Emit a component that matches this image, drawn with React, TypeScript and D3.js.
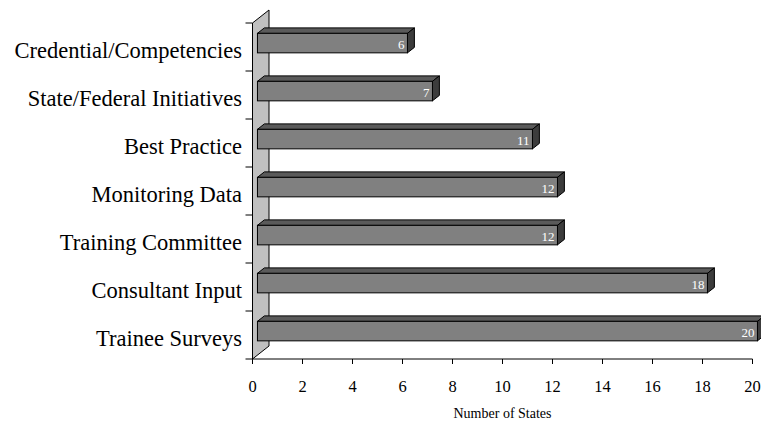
import React from 'react';
import * as d3 from 'd3';

const categories = [
  'Credential/Competencies',
  'State/Federal Initiatives',
  'Best Practice',
  'Monitoring Data',
  'Training Committee',
  'Consultant Input',
  'Trainee Surveys',
];
const values = [6, 7, 11, 12, 12, 18, 20];
const xTicks = [0, 2, 4, 6, 8, 10, 12, 14, 16, 18, 20];
const xTitle = 'Number of States';

const width = 761;
const height = 424;
const font = "'Liberation Serif', 'Times New Roman', serif";

// 3d depth of the back wall
const depthX = 16.5;
const depthY = -13;
// bar sits between these fractions of the depth
const barFront = 0.3;
const barBack = 0.72;
const barH = 19.5;

const App: React.FC = () => {
  const xScale = d3.scaleLinear().domain([0, 20]).range([252.5, 752.5]);
  const yScale = d3.scaleBand<string>().domain(categories).range([23, 359]);

  const x0 = xScale(0);
  const yTop = yScale.range()[0];
  const yBottom = yScale.range()[1];

  const wall = [
    [x0, yTop],
    [x0 + depthX, yTop + depthY],
    [x0 + depthX, yBottom + depthY],
    [x0, yBottom],
  ];

  const fx = barFront * depthX;
  const fy = barFront * depthY;
  const bx = barBack * depthX;
  const by = barBack * depthY;

  return (
    <svg width={width} height={height} style={{ display: 'block', position: 'absolute', left: 0, top: 0 }}>
      <rect width={width} height={height} fill="#fff" />
      {/* back wall */}
      <polygon points={wall.map((p) => p.join(',')).join(' ')} fill="#c0c0c0" stroke="#000" strokeWidth={1} />

      {/* category ticks on the wall */}
      {d3.range(categories.length + 1).map((i) => {
        const y = yTop + i * yScale.step();
        return <line key={'ct' + i} x1={x0 - 7} x2={x0} y1={y} y2={y} stroke="#000" />;
      })}

      {/* x axis */}
      <line x1={x0} x2={xScale(20)} y1={yBottom} y2={yBottom} stroke="#000" />
      {xTicks.map((t) => (
        <g key={'xt' + t}>
          <line x1={xScale(t)} x2={xScale(t)} y1={yBottom} y2={yBottom + 5} stroke="#000" />
          <text x={xScale(t)} y={yBottom + 33} textAnchor="middle" fontFamily={font} fontSize={16.5} fill="#000">
            {t}
          </text>
        </g>
      ))}
      <text x={(xScale(0) + xScale(20)) / 2} y={418} textAnchor="middle" fontFamily={font} fontSize={14} fill="#000">
        {xTitle}
      </text>

      {/* category labels */}
      {categories.map((c) => (
        <text
          key={'cl' + c}
          x={242}
          y={(yScale(c) ?? 0) + yScale.bandwidth() / 2 + 3}
          dy="0.35em"
          textAnchor="end"
          fontFamily={font}
          fontSize={22.5}
          fill="#000"
        >
          {c}
        </text>
      ))}

      {/* bars */}
      {categories.map((c, i) => {
        const v = values[i];
        const cy = (yScale(c) ?? 0) + yScale.bandwidth() / 2;
        const left = x0 + fx;
        const right = xScale(v) + fx;
        const top = cy + fy - barH / 2;
        const bottom = top + barH;
        const dx = bx - fx;
        const dy = by - fy;
        return (
          <g key={'b' + c} stroke="#000" strokeWidth={1} strokeLinejoin="miter">
            <polygon
              points={`${left},${top} ${left + dx},${top + dy} ${right + dx},${top + dy} ${right},${top}`}
              fill="#5a5a5a"
            />
            <polygon
              points={`${right},${top} ${right + dx},${top + dy} ${right + dx},${bottom + dy} ${right},${bottom}`}
              fill="#3c3c3c"
            />
            <rect x={left} y={top} width={right - left} height={barH} fill="#808080" />
            <text
              x={right - 3}
              y={bottom - 4}
              textAnchor="end"
              fontFamily={font}
              fontSize={13}
              fill="#fff"
              stroke="none"
            >
              {v}
            </text>
          </g>
        );
      })}
    </svg>
  );
};

export default App;
